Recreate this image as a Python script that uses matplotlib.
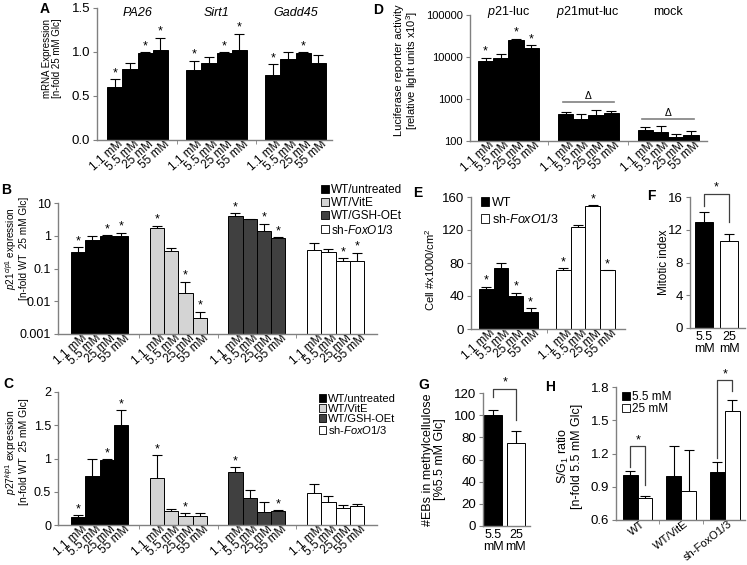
import matplotlib.pyplot as plt
import numpy as np
from matplotlib.patches import Patch
from matplotlib.ticker import NullLocator
from matplotlib.transforms import ScaledTranslation

plt.rcParams['font.family'] = ['Liberation Sans', 'DejaVu Sans']
plt.rcParams['mathtext.fontset'] = 'custom'
plt.rcParams['mathtext.rm'] = 'Liberation Sans'
plt.rcParams['mathtext.it'] = 'Liberation Sans:italic'

glc = ['1.1 mM', '5.5 mM', '25 mM', '55 mM']

# A: mRNA expression
a_genes = ['PA26', 'Sirt1', 'Gadd45']
a_vals = [[0.60, 0.81, 0.99, 1.02], [0.80, 0.87, 0.99, 1.02], [0.74, 0.92, 0.99, 0.87]]
a_errs = [[0.09, 0.06, 0.005, 0.14], [0.10, 0.07, 0.005, 0.19], [0.12, 0.08, 0.005, 0.10]]
a_stars = [[1, 0, 1, 1], [1, 0, 1, 1], [1, 0, 1, 0]]

# B / C: p21 and p27 expression
bc_groups = ['WT/untreated', 'WT/VitE', 'WT/GSH-OEt', 'sh-$\\it{FoxO1/3}$']
b_vals = [[0.33, 0.75, 1.0, 1.0], [1.7, 0.35, 0.018, 0.003], [4.0, 3.2, 1.35, 0.85], [0.38, 0.32, 0.165, 0.17]]
b_errs = [[0.12, 0.22, 0.03, 0.25], [0.3, 0.07, 0.021, 0.0018], [0.8, 0.05, 1.0, 0.05], [0.22, 0.08, 0.045, 0.13]]
b_stars = [[1, 0, 1, 1], [1, 0, 1, 1], [1, 0, 1, 1], [0, 0, 1, 1]]
c_vals = [[0.125, 0.74, 0.98, 1.51], [0.71, 0.21, 0.14, 0.14], [0.79, 0.41, 0.20, 0.21], [0.475, 0.34, 0.25, 0.285]]
c_errs = [[0.025, 0.25, 0.005, 0.22], [0.34, 0.025, 0.035, 0.035], [0.075, 0.11, 0.14, 0.01], [0.14, 0.095, 0.05, 0.03]]
c_stars = [[1, 0, 1, 1], [1, 0, 1, 0], [1, 0, 0, 1], [0, 0, 0, 0]]

# D: luciferase reporter
d_groups = ['$\\it{p21}$-luc', '$\\it{p21}$mut-luc', 'mock']
d_vals = [[8000, 9500, 25000, 16000], [435, 330, 410, 460], [178, 160, 123, 138]]
d_errs = [[1500, 2500, 2000, 3000], [65, 105, 150, 70], [32, 70, 22, 32]]
d_stars = [[1, 0, 1, 1], [0, 0, 0, 0], [0, 0, 0, 0]]
d_delta = [850, 330]

# E: cell numbers
e_groups = ['WT', 'sh-$\\it{FoxO1/3}$']
e_vals = [[48, 73.5, 39.5, 21], [71, 124, 149, 71]]
e_errs = [[3.5, 7, 4.5, 4], [2.5, 2, 1, 0.5]]
e_stars = [[1, 0, 1, 1], [1, 0, 1, 1]]

# F, G: two-condition panels
fg_labels = ['5.5\nmM', '25\nmM']
f_vals = [13.0, 10.6]
f_errs = [1.2, 0.85]
g_vals = [100, 75]
g_errs = [5, 11]

# H: S/G1 ratio
h_groups = ['WT', 'WT/VitE', 'sh-FoxO1/3']
h_55 = [1.01, 1.0, 1.035]
h_55_err = [0.03, 0.265, 0.085]
h_25 = [0.795, 0.86, 1.58]
h_25_err = [0.025, 0.375, 0.1]

W, H = 747, 565
fig = plt.figure(figsize=(W / 100, H / 100), dpi=100)
axc = '#808080'
bc_colors = ['black', '#d4d4d4', '#404040', 'white']


def add_ax(x0, x1, y0, y1):
    return fig.add_axes([x0 / W, 1 - y1 / H, (x1 - x0) / W, (y1 - y0) / H])


def style(ax, ysize=9.5):
    for s in ['top', 'right']:
        ax.spines[s].set_visible(False)
    for s in ['left', 'bottom']:
        ax.spines[s].set_color(axc)
        ax.spines[s].set_linewidth(1.0)
    ax.tick_params(axis='y', direction='out', length=3, color=axc, labelsize=ysize, pad=2)
    ax.tick_params(axis='x', which='major', length=0, pad=2)
    ax.tick_params(axis='x', which='minor', length=3, color=axc)


def ylab(ax, text, size, x, y=0.5):
    ax.set_ylabel(text, fontsize=size, linespacing=1.0)
    ax.yaxis.set_label_coords(x, y)


def shift_labels(ax, dx):
    off = ScaledTranslation(dx / 100, 0, fig.dpi_scale_trans)
    for lab in ax.get_xticklabels():
        lab.set_transform(lab.get_transform() + off)


def errbars(ax, x, v, e):
    v = np.asarray(v, float)
    e = np.asarray(e, float)
    ax.vlines(x, v, v + e, color='black', lw=0.8, zorder=3)
    ax.plot(x, v + e, ls='none', marker='_', ms=7, mew=0.8, color='black', zorder=3)


def star(ax, x, y, size=9):
    ax.annotate('*', (x, y), xytext=(0, 0), textcoords='offset points', annotation_clip=False,
                ha='center', va='bottom', fontsize=size)


def grouped(ax, vals, errs, stars, colors, period, labsize=8.5):
    centers = []
    for g in range(len(vals)):
        x = g * period + np.arange(4) + 0.5
        v = np.array(vals[g], float)
        e = np.array(errs[g], float)
        ax.bar(x, v, width=1, color=colors[g], edgecolor='black', linewidth=0.7, zorder=2)
        errbars(ax, x, v, e)
        for xi, top, s in zip(x, v + e, stars[g]):
            if s:
                star(ax, xi, top)
        centers.extend(x)
    ax.set_xticks(centers)
    ax.set_xticklabels(glc * len(vals), rotation=42, ha='right', va='center',
                       rotation_mode='anchor', fontsize=labsize)
    ax.set_xticks([g * period - (period - 4) / 2 for g in range(1, len(vals))], minor=True)
    shift_labels(ax, 7)


def bracket(ax, x1, x2, yl, yt, yr):
    ax.plot([x1, x1, x2, x2], [yl, yt, yt, yr], color='#404040', lw=0.9, clip_on=False)
    star(ax, (x1 + x2) / 2, yt)


def letter(x, y, s):
    fig.text(x / W, 1 - y / H, s, fontsize=10, fontweight='bold', va='top', ha='left')


def legend(handles, labels, x, y, size, spacing):
    fig.legend(handles, labels, loc='upper left', bbox_to_anchor=(x / W, 1 - y / H),
               frameon=False, fontsize=size, handlelength=0.65, handleheight=0.65,
               handletextpad=0.2, labelspacing=spacing, borderpad=0, borderaxespad=0)


# ---- A
ax = add_ax(97, 332, 8, 140)
style(ax)
grouped(ax, a_vals, a_errs, a_stars, ['black'] * 3, 5.18)
ax.set_xlim(-0.66, 14.75)
ax.set_ylim(0, 1.5)
ax.set_yticks([0, 0.5, 1.0, 1.5])
ax.set_yticklabels(['0.0', '0.5', '1.0', '1.5'])
ylab(ax, 'mRNA Expression\n[n-fold 25 mM Glc]', 7, -0.15, 0.62)
for g, name in enumerate(a_genes):
    ax.text(g * 5.18 + 2, 0.965, name, transform=ax.get_xaxis_transform(), ha='center',
            va='center', fontsize=9, style='italic')

# ---- D
ax = add_ax(470, 707, 15, 141)
style(ax, 8)
grouped(ax, d_vals, d_errs, d_stars, ['black'] * 3, 5.26)
ax.set_yscale('log')
ax.set_xlim(-0.53, 15.07)
ax.set_ylim(100, 100000)
ax.set_yticks([100, 1000, 10000, 100000])
ax.set_yticklabels(['100', '1000', '10000', '100000'])
ax.yaxis.set_minor_locator(NullLocator())
ylab(ax, 'Luciferase reporter activity\n[relative light units x10$^3$]', 8, -0.21, 0.56)
for g, name in enumerate(d_groups):
    ax.text(g * 5.26 + 2, 1.024, name, transform=ax.get_xaxis_transform(), ha='center',
            va='center', fontsize=9)
for g, yv in zip([1, 2], d_delta):
    ax.plot([g * 5.26 + 0.3, g * 5.26 + 3.7], [yv, yv], color='#808080', lw=1.2)
    ax.annotate('Δ', (g * 5.26 + 2, yv), xytext=(0, 1), textcoords='offset points',
                ha='center', va='bottom', fontsize=7.5)

# ---- B
ax = add_ax(58, 377, 203, 334)
style(ax, 9)
grouped(ax, b_vals, b_errs, b_stars, bc_colors, 5.5)
ax.set_yscale('log')
ax.set_xlim(-0.91, 21.4)
ax.set_ylim(0.001, 10)
ax.set_yticks([0.001, 0.01, 0.1, 1, 10])
ax.set_yticklabels(['0.001', '0.01', '0.1', '1', '10'])
ax.yaxis.set_minor_locator(NullLocator())
ylab(ax, '$\\it{p21}^{\\it{cip1}}$ expression\n[n-fold WT  25 mM Glc]', 7.2, -0.09, 0.65)
handles = [Patch(facecolor=c, edgecolor='black', lw=0.6) for c in bc_colors]
legend(handles, bc_groups, 321, 184, 8.5, 0.1)

# ---- C
ax = add_ax(58, 377, 392, 525)
style(ax, 9)
grouped(ax, c_vals, c_errs, c_stars, bc_colors, 5.5)
ax.set_xlim(-0.91, 21.4)
ax.set_ylim(0, 2)
ax.set_yticks([0, 0.5, 1, 1.5, 2])
ax.set_yticklabels(['0', '0.5', '1', '1.5', '2'])
ylab(ax, '$\\it{p27}^{\\it{kip1}}$ expression\n[n-fold WT  25 mM Glc]', 7.5, -0.09, 0.55)
legend(handles, bc_groups, 319, 394, 8, 0.0)

# ---- E
ax = add_ax(471, 625, 197, 329)
style(ax)
grouped(ax, e_vals, e_errs, e_stars, ['black', 'white'], 5.22)
ax.set_xlim(-0.54, 9.9)
ax.set_ylim(0, 160)
ax.set_yticks([0, 40, 80, 120, 160])
ylab(ax, 'Cell #x1000/cm$^2$', 8, -0.22, 0.45)
legend([Patch(facecolor='black', edgecolor='black', lw=0.6),
        Patch(facecolor='white', edgecolor='black', lw=0.6)], e_groups, 481, 197, 9, 0.3)

# ---- F
ax = add_ax(690, 745, 197, 328)
style(ax)
fx = np.array([0.5, 1.89])
ax.bar(fx, f_vals, width=1, color=['black', 'white'], edgecolor='black', lw=0.7, zorder=2)
errbars(ax, fx, f_vals, f_errs)
bracket(ax, fx[0], fx[1], 14.9, 16.4, 13.0)
ax.set_xlim(-0.28, 2.78)
ax.set_ylim(0, 16)
ax.set_yticks([0, 4, 8, 12, 16])
ax.set_xticks(fx)
ax.set_xticklabels(fg_labels, fontsize=9, linespacing=1.0)
ylab(ax, 'Mitotic index', 8.5, -0.37, 0.5)

# ---- G
ax = add_ax(483, 530, 393, 526)
style(ax)
gx = np.array([0.5, 1.75])
ax.bar(gx, g_vals, width=1, color=['black', 'white'], edgecolor='black', lw=0.7, zorder=2)
errbars(ax, gx, g_vals, g_errs)
bracket(ax, gx[0], gx[1], 116.4, 123.9, 95.4)
ax.set_xlim(-0.08, 2.53)
ax.set_ylim(0, 120)
ax.set_yticks([0, 20, 40, 60, 80, 100, 120])
ax.set_xticks(gx)
ax.set_xticklabels(fg_labels, fontsize=9, linespacing=1.0)
ylab(ax, '#EBs in methylcellulose\n[%5.5 mM Glc]', 9, -0.79, 0.5)

# ---- H
ax = add_ax(616, 745, 387, 520)
style(ax)
hp = 2.95
hx = np.arange(3) * hp
ax.bar(hx + 0.5, h_55, width=1, color='black', edgecolor='black', lw=0.7, zorder=2)
ax.bar(hx + 1.5, h_25, width=1, color='white', edgecolor='black', lw=0.7, zorder=2)
errbars(ax, hx + 0.5, h_55, h_55_err)
errbars(ax, hx + 1.5, h_25, h_25_err)
bracket(ax, 0.5, 1.5, 1.08, 1.266, 0.915)
bracket(ax, 2 * hp + 0.5, 2 * hp + 1.5, 1.155, 1.86, 1.76)
ax.set_xlim(-0.47, 8.27)
ax.set_ylim(0.6, 1.8)
ax.set_yticks([0.6, 0.9, 1.2, 1.5, 1.8])
ax.set_xticks(hx + 1)
ax.set_xticklabels(h_groups, rotation=38, ha='right', va='center', rotation_mode='anchor',
                   fontsize=8)
ax.set_xticks(hx[1:] - (hp - 2) / 2, minor=True)
shift_labels(ax, 6)
ylab(ax, 'S/G$_1$ ratio\n[n-fold 5.5 mM Glc]', 9, -0.256, 0.48)
legend([Patch(facecolor='black', edgecolor='black', lw=0.6),
        Patch(facecolor='white', edgecolor='black', lw=0.6)], ['5.5 mM', '25 mM'],
       622, 391, 8.5, 0.0)

for s, x, y in [('A', 40, 2), ('D', 373, 3), ('B', 1, 183), ('C', 3, 377),
                ('E', 413, 186), ('F', 647, 189), ('G', 418, 378), ('H', 545, 380)]:
    letter(x, y, s)

fig.savefig('out.png', dpi=100)
